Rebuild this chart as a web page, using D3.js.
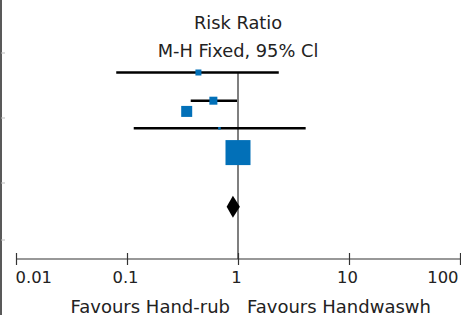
<!DOCTYPE html>
<html>
<head>
<meta charset="utf-8">
<script src="https://cdn.jsdelivr.net/npm/d3@7"></script>
<style>
  html, body { margin: 0; padding: 0; background: #fff; }
  #chart text { font-family: 'DejaVu Sans', sans-serif; fill: #222; }
</style>
</head>
<body>
<div id="chart"></div>
<script>

	var width = 461;
	var height = 315;

	// study rows (row = vertical slot, as placed in the picture)
	var studyRow = [1, 2, 2.38, 2.98, 3.84];
	var studyRR = [0.44, 0.60, 0.345, 0.68, 1.0];
	var studyLow = [0.080, 0.375, 0.33, 0.115, 0.96];
	var studyHigh = [2.33, 0.98, 0.36, 4.07, 1.04];
	var studyWeight = [6, 8, 11, 2.6, 25];

	// pooled estimate
	var totalRow = 5.76;
	var totalRR = 0.90;
	var totalLow = 0.79;
	var totalHigh = 1.04;

	var tickValues = [0.01, 0.1, 1, 10, 100];
	var tickLabels = ['0.01', '0.1', '1', '10', '100'];

	var titleLines = ['Risk Ratio', 'M-H Fixed, 95% Cl'];
	var favourLeft = 'Favours Hand-rub';
	var favourRight = 'Favours Handwaswh';

	var svg = d3.select('#chart')
		.append('svg')
		.attr('width', width)
		.attr('height', height)

	var x = d3.scaleLog()
		.domain([0.01, 100])
		.range([16, 460]);

	var y = d3.scaleLinear()
		.domain([1, 2])
		.range([72.5, 100.7]);

	var axisY = 259;

	// left border of the neighbouring table
	svg.append('line')
		.attr('x1', 1).attr('x2', 1)
		.attr('y1', 0).attr('y2', height)
		.style('stroke', '#222')
		.style('stroke-width', 1.5)

	svg.selectAll('.edge')
		.data([53, 118, 183, 240])
		.enter()
		.append('line')
		.attr('class', 'edge')
		.attr('x1', 1).attr('x2', 5)
		.attr('y1', function(d) { return d; })
		.attr('y2', function(d) { return d; })
		.style('stroke', '#bbb')
		.style('stroke-width', 1)

	// title
	svg.selectAll('.title')
		.data(titleLines)
		.enter()
		.append('text')
		.attr('class', 'title')
		.attr('x', x(1))
		.attr('y', function(d, i) { return 29.3 + i * 27.4; })
		.attr('text-anchor', 'middle')
		.style('font-size', '17.8px')
		.text(function(d) { return d; })

	// null line
	svg.append('line')
		.attr('x1', x(1)).attr('x2', x(1))
		.attr('y1', y(1)).attr('y2', axisY)
		.style('stroke', '#555')
		.style('stroke-width', 1.5)

	// AXIS
	var xAxis = d3.axisBottom(x)
		.tickValues(tickValues)
		.tickSize(6)
		.tickFormat(function(d, i) { return tickLabels[i]; });

	var xAxisGroup = svg.append('g')
		.attr('class', 'axis')
		.attr('transform', 'translate(0,' + axisY + ')')
		.call(xAxis)

	xAxisGroup.select('.domain')
		.attr('d', 'M' + x(0.01) + ',0H' + x(100))
		.style('stroke', '#333')
		.style('stroke-width', 1.2)

	xAxisGroup.selectAll('.tick line')
		.attr('y1', -6)
		.attr('y2', 6)
		.style('stroke', '#333')
		.style('stroke-width', 1.2)

	xAxisGroup.selectAll('.tick text')
		.attr('y', 24)
		.attr('dy', 0)
		.style('font-size', '16.4px')
		.style('fill', '#222')
		.attr('text-anchor', function(d, i) {
			return i == 0 ? 'start' : (i == tickValues.length - 1 ? 'end' : 'middle');
		})
		.attr('x', function(d, i) {
			return i == 0 ? -1 : -2;
		})

	// confidence intervals
	svg.selectAll('.ci')
		.data(studyRR)
		.enter()
		.append('line')
		.attr('class', 'ci')
		.attr('x1', function(d, i) { return x(studyLow[i]); })
		.attr('x2', function(d, i) { return x(studyHigh[i]); })
		.attr('y1', function(d, i) { return y(studyRow[i]); })
		.attr('y2', function(d, i) { return y(studyRow[i]); })
		.style('stroke', '#000')
		.style('stroke-width', 2.5)

	// study squares
	svg.selectAll('.dot')
		.data(studyRR)
		.enter()
		.append('rect')
		.attr('class', 'dot')
		.attr('x', function(d, i) { return x(d) - studyWeight[i] / 2; })
		.attr('y', function(d, i) { return y(studyRow[i]) - studyWeight[i] / 2; })
		.attr('width', function(d, i) { return studyWeight[i]; })
		.attr('height', function(d, i) { return studyWeight[i]; })
		.style('fill', '#0270b8')

	// pooled diamond
	var ty = y(totalRow);
	svg.append('path')
		.attr('d', 'M' + x(totalLow) + ',' + ty +
			'L' + x(totalRR) + ',' + (ty - 11) +
			'L' + x(totalHigh) + ',' + ty +
			'L' + x(totalRR) + ',' + (ty + 11) + 'Z')
		.style('fill', '#000')

	// favours labels
	svg.append('text')
		.attr('x', x(1) - 8)
		.attr('y', 313)
		.attr('text-anchor', 'end')
		.style('font-size', '18px')
		.text(favourLeft)

	svg.append('text')
		.attr('x', x(1) + 9)
		.attr('y', 313)
		.attr('text-anchor', 'start')
		.style('font-size', '18px')
		.text(favourRight)

</script>
</body>
</html>
